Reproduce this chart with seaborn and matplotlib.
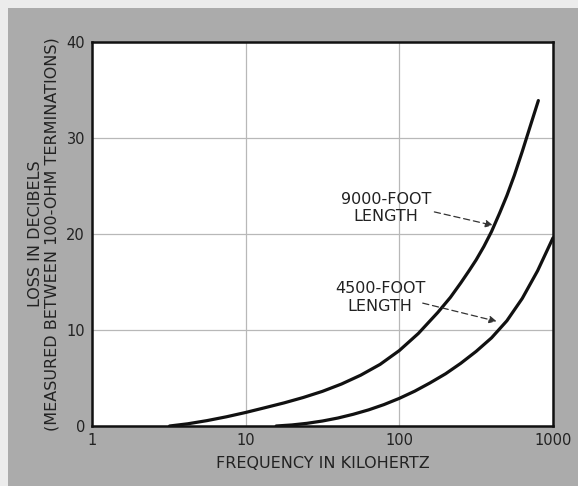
import numpy as np
import pandas as pd
import matplotlib
matplotlib.use('Agg')
import matplotlib.pyplot as plt
from matplotlib.patches import Rectangle
from matplotlib.ticker import FixedLocator, FixedFormatter, NullLocator
import seaborn as sns

# values (kHz, dB)
freq_9000 = [3.2, 4.2, 5.6, 7.5, 10, 13.3, 17.8, 23.7, 31.6, 42, 56, 75, 100, 133, 178,
             215, 251, 285, 316, 355, 398, 450, 501, 560, 631, 710, 803]
loss_9000 = [0, 0.23, 0.56, 0.96, 1.41, 1.90, 2.41, 2.97, 3.61, 4.37, 5.29, 6.42, 7.86, 9.64, 11.83,
             13.4, 14.9, 16.2, 17.3, 18.7, 20.25, 22.2, 24.0, 26.1, 28.6, 31.2, 33.9]
freq_4500 = [15.8, 20, 25.1, 31.6, 39.8, 50.1, 63.1, 79.4, 100, 126, 158, 200, 251, 316,
             398, 501, 631, 794, 1000]
loss_4500 = [0, 0.11, 0.28, 0.52, 0.83, 1.22, 1.68, 2.23, 2.88, 3.63, 4.48, 5.44, 6.53, 7.77,
             9.18, 10.96, 13.29, 16.17, 19.6]

x_ticks = [1, 10, 100, 1000]
x_tick_labels = ['1', '10', '100', '1000']
y_ticks = [0, 10, 20, 30, 40]

labels = ['9000-FOOT\nLENGTH', '4500-FOOT\nLENGTH']
label_pos = [(82, 22.7), (75, 13.4)]
arrow_tail = [(169, 22.3), (142, 12.8)]
arrow_tip = [(407, 20.9), (430, 10.9)]

df = pd.concat([
    pd.DataFrame({'freq': freq_9000, 'loss': loss_9000, 'cable': '9000'}),
    pd.DataFrame({'freq': freq_4500, 'loss': loss_4500, 'cable': '4500'}),
])

sns.set_style('white')
plt.rcParams['font.family'] = ['DejaVu Sans']

TXT = '#222222'

fig = plt.figure(figsize=(5.78, 4.86), dpi=100, facecolor='#ececec')
fig.patches.append(Rectangle((8 / 578, 0), 1, 1 - 8 / 486, transform=fig.transFigure,
                             facecolor='#ababab', edgecolor='none', zorder=-10))
ax = fig.add_axes([92 / 578, 60 / 486, 461 / 578, 384 / 486])
ax.set_zorder(1)
ax.set_facecolor('white')

sns.lineplot(data=df, x='freq', y='loss', units='cable', estimator=None, sort=False,
             color='#111111', linewidth=2.3, ax=ax, legend=False)

ax.set_xscale('log')
ax.set_xlim(1, 1000)
ax.set_ylim(0, 40)
ax.xaxis.set_major_locator(FixedLocator(x_ticks))
ax.xaxis.set_major_formatter(FixedFormatter(x_tick_labels))
ax.xaxis.set_minor_locator(NullLocator())
ax.set_yticks(y_ticks)
ax.tick_params(length=0, labelsize=10.5, colors=TXT, pad=5)
ax.grid(True, color='#b8b8b8', linewidth=0.9)
for s in ax.spines.values():
    s.set_color('#111111')
    s.set_linewidth(1.8)

ax.set_xlabel('FREQUENCY IN KILOHERTZ', fontsize=11.5, color=TXT, labelpad=6)
ax.set_ylabel('LOSS IN DECIBELS\n(MEASURED BETWEEN 100-OHM TERMINATIONS)', fontsize=11.5,
              color=TXT, labelpad=5, linespacing=1.15)

for txt, pos, tail, tip in zip(labels, label_pos, arrow_tail, arrow_tip):
    ax.text(pos[0], pos[1], txt, ha='center', va='center', fontsize=11.5,
            color=TXT, linespacing=1.2)
    ax.annotate('', xy=tip, xytext=tail,
                arrowprops=dict(arrowstyle='-|>', linestyle=(0, (5, 3)), lw=0.9,
                                color='#333333', mutation_scale=11, shrinkA=0, shrinkB=0))

fig.savefig('out.png', dpi=100, facecolor=fig.get_facecolor())
